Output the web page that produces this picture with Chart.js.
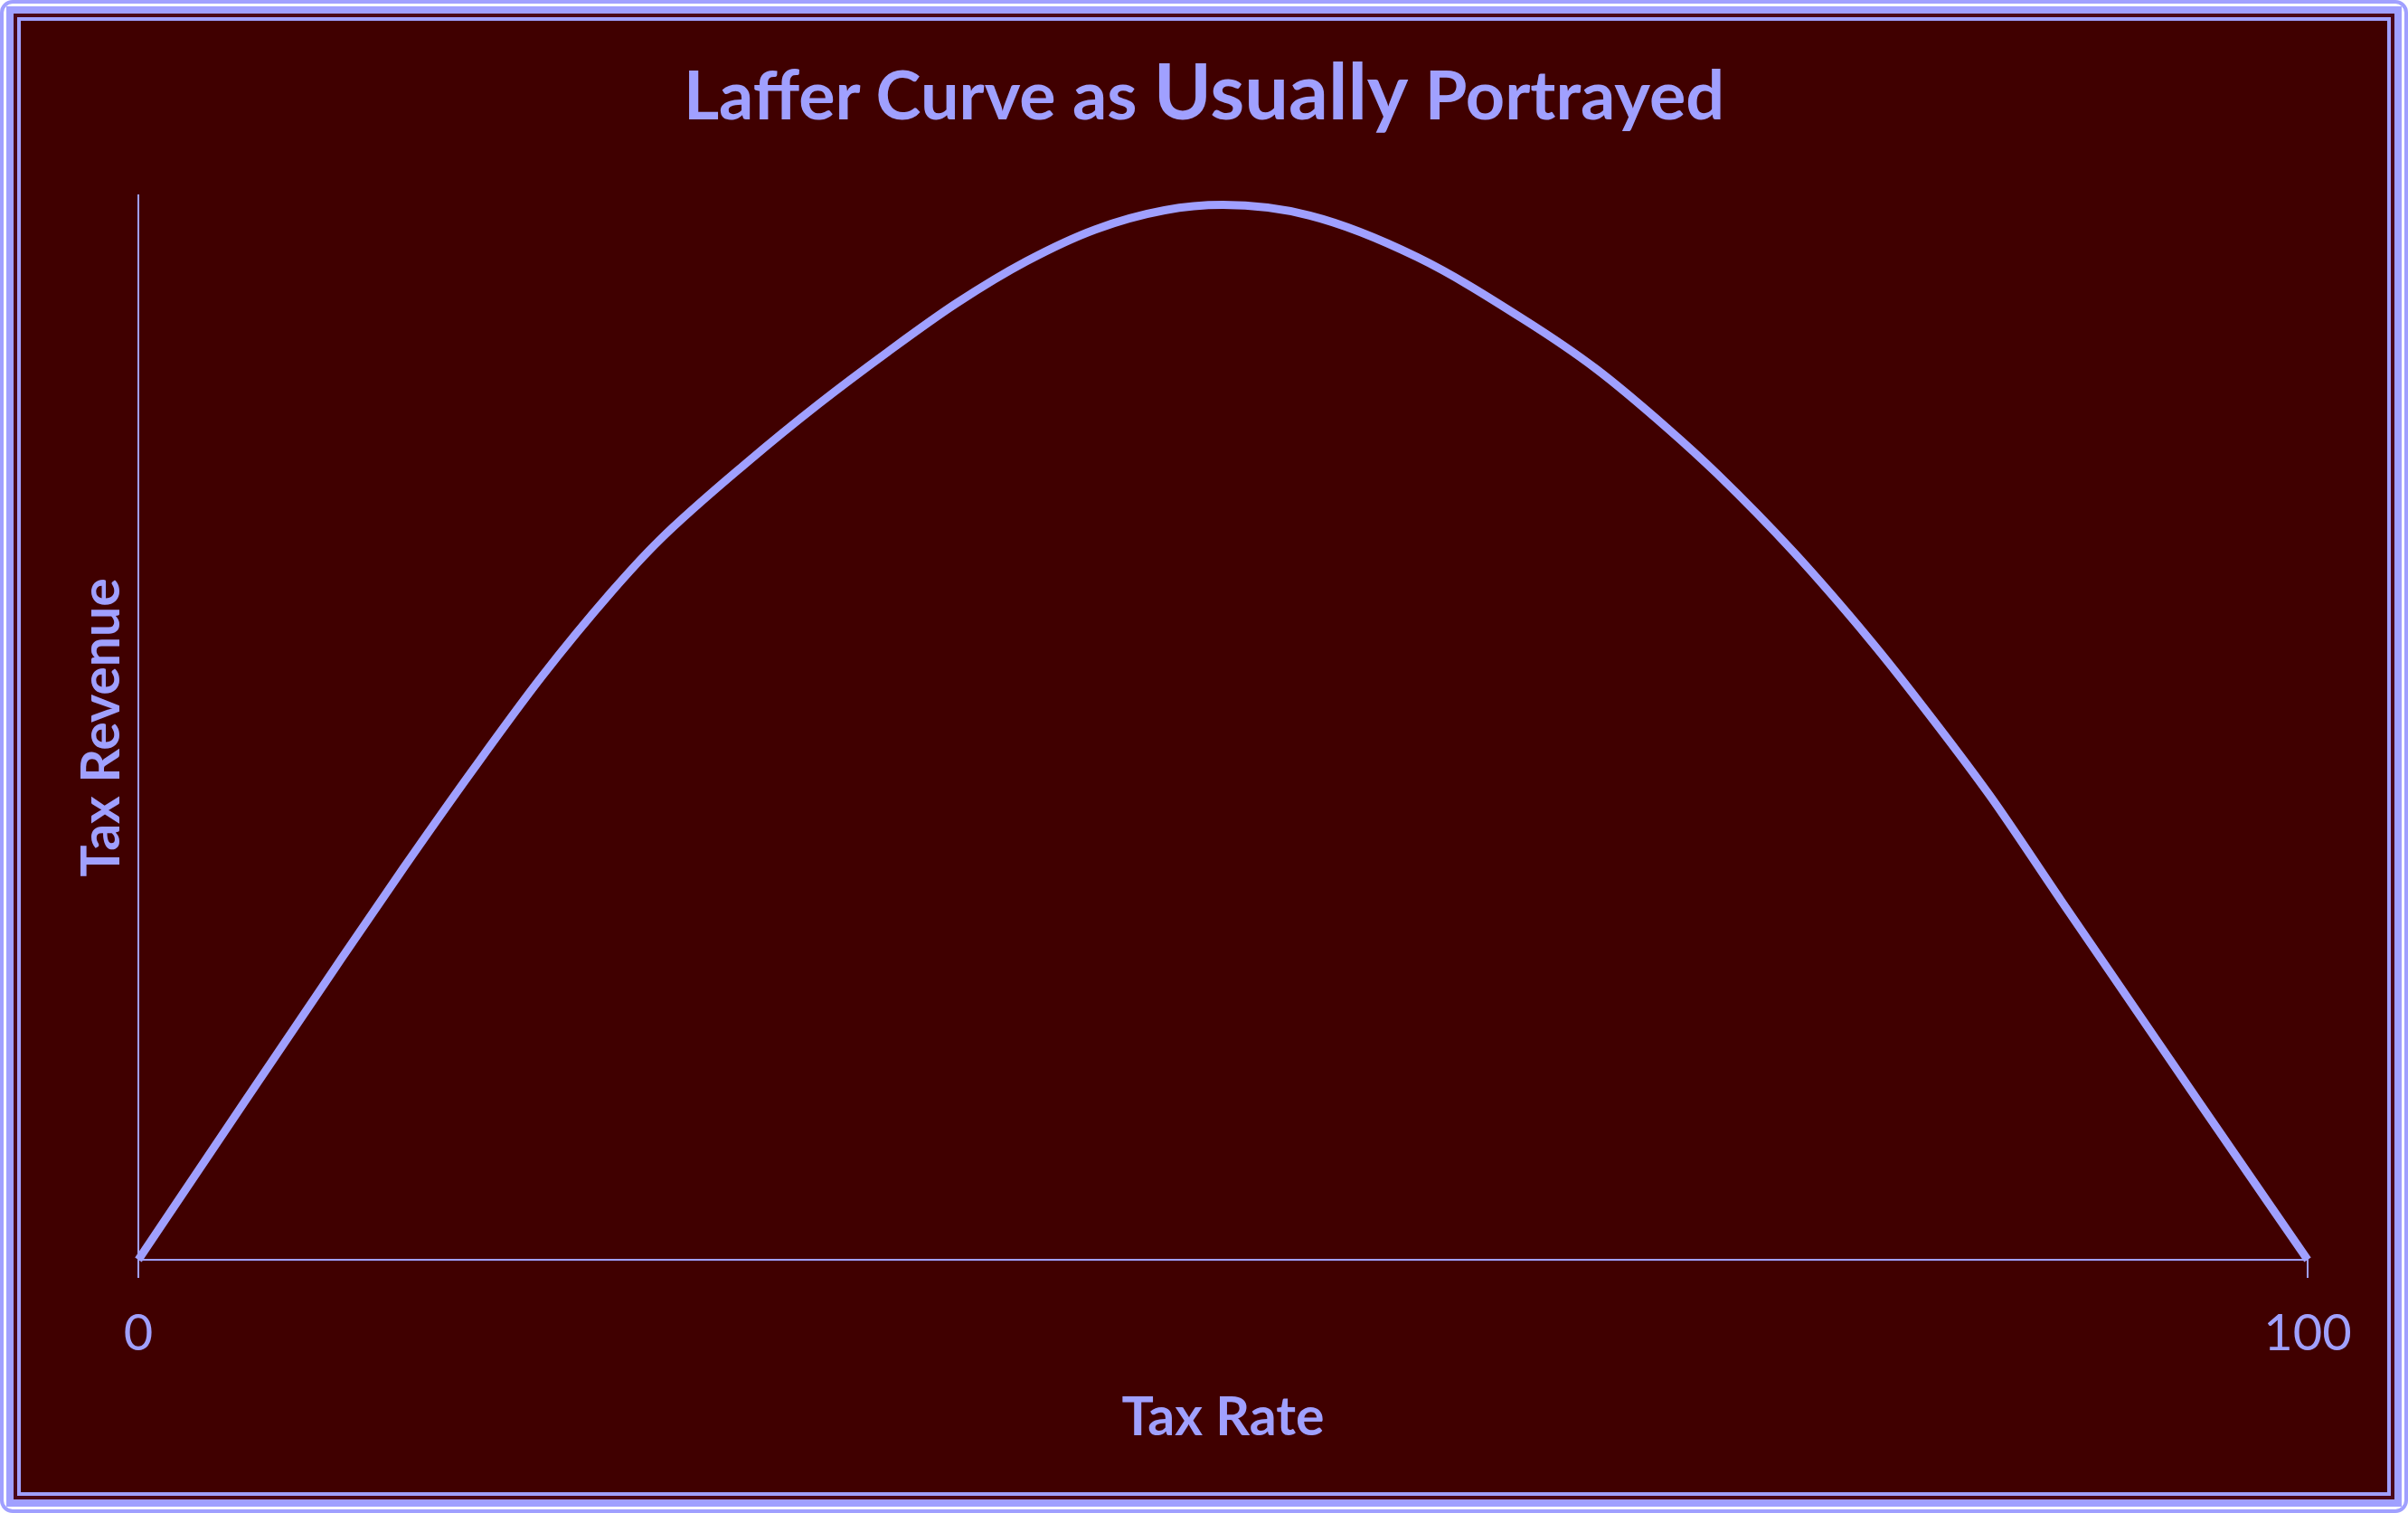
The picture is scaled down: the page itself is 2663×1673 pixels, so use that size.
<!DOCTYPE html>
<html>
<head>
<meta charset="UTF-8">
<title>Laffer Curve</title>
<script src="https://cdn.jsdelivr.net/npm/chart.js@4.4.1/dist/chart.umd.min.js"></script>
<style>
html, body { margin: 0; padding: 0; background: #ffffff; }
#frame1 {
    position: absolute; left: 0; top: 0; width: 2663px; height: 1673px;
    box-sizing: border-box; border: 4px solid #A0A0FF; border-radius: 14px;
    padding: 3px; background: #ffffff;
}
#frame2 {
    width: 100%; height: 100%; box-sizing: border-box;
    border: 8px solid #A0A0FF; padding: 4px; background: #4a0818;
}
#frame3 {
    width: 100%; height: 100%; box-sizing: border-box;
    border: 4px solid #A0A0FF; background: #400000;
}
#title {
    position: absolute; left: 0; top: 56px; width: 2663px; text-align: center;
    font-family: Lato, sans-serif; font-weight: bold; color: #A0A0FF;
    font-size: 75.5px; line-height: 1; white-space: nowrap;
}
#title .big { font-size: 86.5px; }
#wrap { position: absolute; left: 0; top: 0; width: 2663px; height: 1673px; }
</style>
</head>
<body>
<div id="frame1"><div id="frame2"><div id="frame3"></div></div></div>
<div id="title">Laffer Curve as <span class="big">Usually</span> Portrayed</div>
<div id="wrap"><canvas id="myChart" width="2663" height="1673"></canvas></div>
<script>
// 곡선 위의 점 (세율, 세수)
const taxRate = [0, 4.24, 9.03, 12.22, 15.41, 18.6, 21.79, 24.02, 28.17, 31.36, 34.55, 37.74, 40.93, 44.12, 47.31, 50,
    54, 58.95, 63.9, 67.2, 70.5, 72.8, 76.3, 79.8, 82.03, 85.32, 88.62, 91.91, 95.2, 100];
const taxRevenue = [0, 12.85, 27.3, 36.8, 46.0, 54.8, 62.7, 67.6, 75.1, 80.4, 85.3, 89.9, 93.8, 96.8, 98.6, 99.1,
    98.1, 94.2, 88.3, 83.7, 78.1, 73.8, 66.5, 58.3, 52.6, 43.7, 33.8, 24.0, 14.2, 0];
const xTicks = [0, 100];

const lavender = '#A0A0FF';

function drawLafferChart() {
    const points = taxRate.map((x, i) => ({ x: x, y: taxRevenue[i] }));
    const canvas = document.getElementById('myChart');

    new Chart(canvas, {
        type: 'line',
        data: {
            datasets: [{
                data: points,
                borderColor: lavender,
                borderWidth: 9,
                pointRadius: 0,
                cubicInterpolationMode: 'monotone',
                borderJoinStyle: 'round',
                clip: false
            }]
        },
        options: {
            responsive: false,
            animation: false,
            layout: { padding: { left: 78, right: 111, top: 216, bottom: 70 } },
            plugins: { legend: { display: false }, tooltip: { enabled: false } },
            scales: {
                x: {
                    type: 'linear',
                    min: 0,
                    max: 100,
                    afterBuildTicks: (scale) => { scale.ticks = xTicks.map(v => ({ value: v })); },
                    afterFit: (scale) => { scale.height = 210; },
                    ticks: {
                        color: lavender,
                        padding: 28,
                        maxRotation: 0,
                        font: { family: 'Lato', size: 56 }
                    },
                    grid: {
                        display: true,
                        drawOnChartArea: false,
                        drawTicks: true,
                        tickLength: 20,
                        color: lavender,
                        lineWidth: 2
                    },
                    border: { display: true, color: lavender, width: 2 },
                    title: {
                        display: true,
                        text: 'Tax Rate',
                        color: lavender,
                        padding: 0,
                        font: { family: 'Lato', size: 59, weight: 'bold' }
                    }
                },
                y: {
                    min: 0,
                    max: 100,
                    afterFit: (scale) => { scale.width = 75; },
                    ticks: { display: false },
                    grid: { display: false },
                    border: { display: true, color: lavender, width: 2 },
                    title: {
                        display: true,
                        text: 'Tax Revenue',
                        color: lavender,
                        padding: 0,
                        font: { family: 'Lato', size: 59, weight: 'bold' }
                    }
                }
            }
        }
    });
}

window.onload = function() {
    drawLafferChart();
};
</script>
</body>
</html>
